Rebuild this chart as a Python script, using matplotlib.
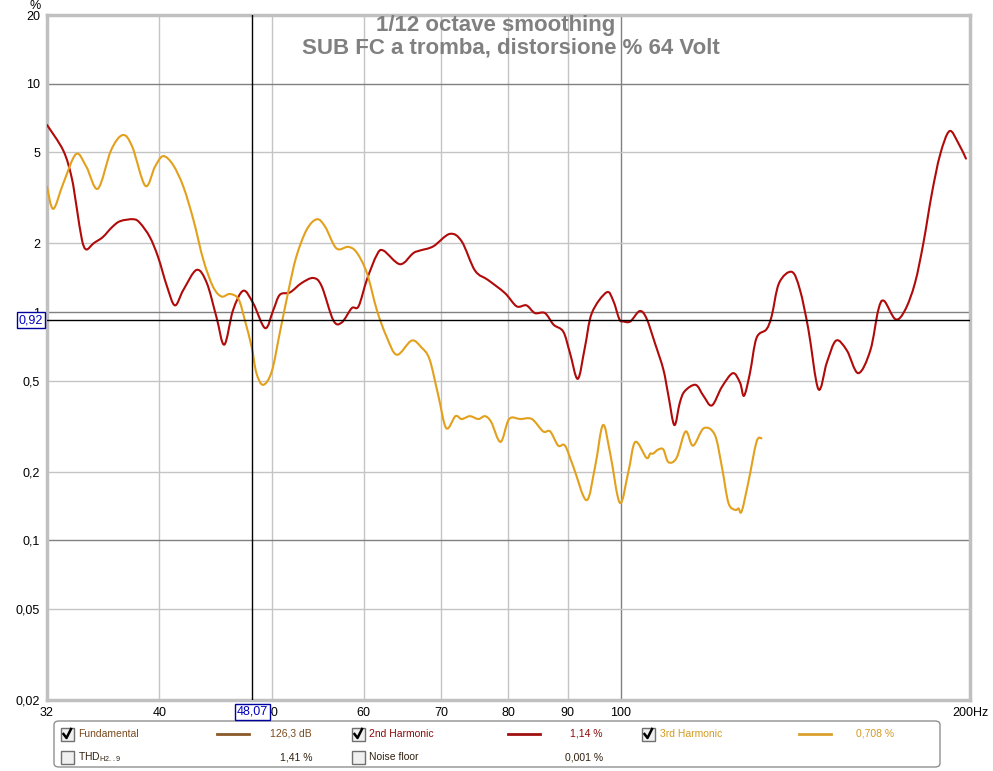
import numpy as np
import matplotlib
matplotlib.use('Agg')
import matplotlib.pyplot as plt
from matplotlib.patches import Rectangle, FancyBboxPatch, PathPatch
from matplotlib.lines import Line2D
from matplotlib.path import Path

plt.rcParams['font.family'] = ['Liberation Sans', 'DejaVu Sans']

# 2nd harmonic distortion (%)
freq_h2 = [32.0, 33.05, 33.6, 33.95, 34.3, 34.6, 35.1, 35.75, 36.4, 37.0, 38.0, 38.5, 39.25, 39.9,
           40.6, 41.25, 41.95, 43.07, 43.95, 44.8, 45.5, 46.3, 47.25, 48.2, 49.35, 50.15, 50.8,
           51.85, 53.05, 54.3, 55.2, 56.5, 57.45, 58.6, 59.4, 60.4, 61.6, 62.4, 64.5, 66.2, 67.1,
           68.9, 71.2, 72.9, 74.85, 76.85, 79.45, 81.3, 82.9, 84.3, 86.0, 87.5, 89.2, 90.4, 91.8,
           93.1, 94.4, 97.2, 98.5, 99.7, 100.5, 101.9, 103.8, 105.2, 107.0, 108.8, 109.9, 111.2,
           112.4, 113.5, 116.0, 117.8, 119.8, 122.2, 124.9, 126.7, 127.7, 129.2, 130.9, 133.5,
           134.9, 136.9, 140.4, 142.7, 145.1, 148.0, 150.5, 153.3, 156.6, 160.2, 164.1, 166.7,
           168.6, 172.5, 175.8, 179.3, 182.3, 185.4, 188.5, 192.0, 195.4, 198.4]
pct_h2 = [6.6, 5.1, 3.9, 2.85, 2.07, 1.88, 2.0, 2.13, 2.35, 2.5, 2.55, 2.45, 2.13, 1.74,
          1.3, 1.07, 1.25, 1.53, 1.34, 0.95, 0.72, 1.02, 1.24, 1.09, 0.85, 1.02, 1.19,
          1.22, 1.34, 1.41, 1.3, 0.92, 0.9, 1.04, 1.06, 1.39, 1.78, 1.86, 1.62, 1.81, 1.86,
          1.94, 2.2, 2.04, 1.52, 1.38, 1.21, 1.06, 1.07, 0.99, 0.99, 0.88, 0.82, 0.66, 0.51,
          0.7, 0.99, 1.22, 1.12, 0.93, 0.91, 0.91, 1.01, 0.94, 0.73, 0.56, 0.43, 0.32,
          0.4, 0.45, 0.48, 0.43, 0.39, 0.47, 0.54, 0.49, 0.43, 0.54, 0.77, 0.84,
          0.96, 1.34, 1.5, 1.25, 0.84, 0.46, 0.6, 0.75, 0.68, 0.54, 0.68, 1.02,
          1.12, 0.93, 1.02, 1.34, 2.0, 3.3, 4.9, 6.2, 5.5, 4.7]

# 3rd harmonic distortion (%)
freq_h3 = [32.0, 32.4, 33.05, 33.9, 34.6, 35.4, 36.35, 37.2, 37.9, 38.9, 39.65, 40.3, 41.1,
           41.95, 42.8, 43.65, 44.5, 45.25, 46.0, 46.8, 47.4, 48.05, 48.5, 49.15, 50.0, 50.8,
           51.7, 52.5, 53.6, 54.7, 55.6, 56.85, 58.2, 59.2, 60.4, 61.6, 62.8, 64.1, 66.0, 67.3,
           68.4, 69.6, 70.7, 72.0, 72.9, 74.1, 75.35, 76.35, 77.3, 78.75, 80.1, 81.9, 83.8,
           85.7, 86.9, 88.3, 89.5, 91.0, 93.4, 95.0, 96.5, 97.9, 99.8, 101.5, 102.9, 105.2,
           106.0, 106.6, 107.7, 108.8, 109.9, 111.7, 113.7, 115.4, 117.9, 120.5, 122.2, 123.8,
           125.5, 126.3, 127.1, 128.8, 130.9, 132.2]
pct_h3 = [3.54, 2.83, 3.66, 4.92, 4.33, 3.47, 5.13, 5.96, 5.3, 3.57, 4.33, 4.82, 4.41,
          3.54, 2.53, 1.69, 1.29, 1.17, 1.2, 1.14, 0.92, 0.70, 0.54, 0.48, 0.55, 0.81,
          1.25, 1.75, 2.3, 2.55, 2.36, 1.9, 1.93, 1.82, 1.48, 1.02, 0.78, 0.65, 0.75, 0.7,
          0.62, 0.43, 0.31, 0.35, 0.34, 0.35, 0.34, 0.35, 0.33, 0.27, 0.34, 0.34, 0.34,
          0.3, 0.3, 0.26, 0.26, 0.21, 0.15, 0.21, 0.32, 0.24, 0.146, 0.2, 0.27, 0.23,
          0.24, 0.24, 0.25, 0.25, 0.22, 0.23, 0.3, 0.26, 0.31, 0.29, 0.21, 0.146,
          0.136, 0.138, 0.134, 0.18, 0.27, 0.28]

x_ticks = [32, 40, 50, 60, 70, 80, 90, 100, 200]
x_labels = ['32', '40', '50', '60', '70', '80', '90', '100', '200Hz']
y_ticks = [0.02, 0.05, 0.1, 0.2, 0.5, 1, 2, 5, 10, 20]
y_labels = ['0,02', '0,05', '0,1', '0,2', '0,5', '1', '2', '5', '10', '20']

cursor_freq = 48.07
cursor_pct = 0.92

W, H = 993, 771
fig = plt.figure(figsize=(W / 100, H / 100), dpi=100)


def fx(x):
    return x / W


def fy(y):
    return 1 - y / H


def smooth_curve(xs, ys):
    # Catmull-Rom style bezier path through the read points (log-log space)
    lx, ly = np.log10(xs), np.log10(ys)
    p = np.column_stack([lx, ly])
    n = len(p)
    verts = [p[0]]
    codes = [Path.MOVETO]
    for i in range(n - 1):
        p0 = p[i - 1] if i > 0 else p[i]
        p3 = p[i + 2] if i + 2 < n else p[i + 1]
        c1 = p[i] + (p[i + 1] - p0) / 6
        c2 = p[i + 1] - (p3 - p[i]) / 6
        verts += [c1, c2, p[i + 1]]
        codes += [Path.CURVE4] * 3
    verts = 10 ** np.array(verts)
    return Path(verts, codes)


ax = fig.add_axes([fx(47), fy(700), (970 - 47) / W, (700 - 15) / H])
ax.set_xscale('log')
ax.set_yscale('log')
ax.set_xlim(32, 200)
ax.set_ylim(0.02, 20)

# grid
for v in [40, 50, 60, 70, 80, 90]:
    ax.axvline(v, color='#c4c4c4', lw=1, zorder=1)
ax.axvline(100, color='#808080', lw=1, zorder=1)
for v in [0.05, 0.2, 0.5, 2, 5]:
    ax.axhline(v, color='#c4c4c4', lw=1, zorder=1)
for v in [0.1, 1, 10]:
    ax.axhline(v, color='#808080', lw=1, zorder=1)

ax.add_patch(PathPatch(smooth_curve(freq_h2, pct_h2), fill=False, ec='#b00a0a', lw=1.5,
                       zorder=3, capstyle='round', joinstyle='round'))
ax.add_patch(PathPatch(smooth_curve(freq_h3, pct_h3), fill=False, ec='#e3a01c', lw=1.5,
                       zorder=3, capstyle='round', joinstyle='round'))

# cursor
ax.axvline(cursor_freq, color='black', lw=1, zorder=4)
ax.axhline(cursor_pct, color='black', lw=1, zorder=4)

ax.set_xticks(x_ticks)
ax.set_xticklabels(x_labels)
ax.set_xticks([], minor=True)
ax.set_yticks(y_ticks)
ax.set_yticklabels(y_labels)
ax.set_yticks([], minor=True)
ax.tick_params(length=0, labelsize=9, colors='black')
ax.tick_params(axis='x', pad=5)
ax.tick_params(axis='y', pad=5)
for s in ax.spines.values():
    s.set_color('#c0c0c0')
    s.set_linewidth(2.5)

fig.text(fx(35), fy(6), '%', fontsize=9, ha='center', va='center')

# title
fig.text(fx(496), fy(26), '1/12 octave smoothing', fontsize=16, fontweight='bold',
         color='#808080', ha='center', va='center')
fig.text(fx(511), fy(48), 'SUB FC a tromba, distorsione % 64 Volt', fontsize=16,
         fontweight='bold', color='#808080', ha='center', va='center')

# cursor value boxes
box = dict(boxstyle='square,pad=0.15', fc='white', ec='#0000a0', lw=1)
fig.text(fx(252), fy(712), '48,07', fontsize=9, color='#0000c0', ha='center', va='center',
         bbox=box, zorder=10)
fig.text(fx(31), fy(320), '0,92', fontsize=9, color='#0000c0', ha='center', va='center',
         bbox=box, zorder=10)

# legend panel
panel = FancyBboxPatch((fx(54), fy(767)), fx(940 - 54), (767 - 721) / H,
                       boxstyle='round,pad=0,rounding_size=0.005', transform=fig.transFigure,
                       fc='white', ec='#909090', lw=1)
fig.add_artist(panel)


def checkbox(x, y, checked):
    fig.add_artist(Rectangle((fx(x - 6.5), fy(y + 6.5)), 13 / W, 13 / H, transform=fig.transFigure,
                             fc='#f0f0f0', ec='#707070', lw=1))
    if checked:
        fig.add_artist(Line2D([fx(x - 3.5), fx(x - 0.5), fx(x + 4)],
                              [fy(y), fy(y + 4), fy(y - 5)], transform=fig.transFigure,
                              color='black', lw=1.8))


def sample(x0, x1, y, color):
    fig.add_artist(Line2D([fx(x0), fx(x1)], [fy(y), fy(y)], transform=fig.transFigure,
                          color=color, lw=2))


fund_c = '#7a4a1e'
h2_c = '#8b0a0a'
h3_c = '#d49a20'
row1, row2 = 734, 757
lf = 7.5

checkbox(67, row1, True)
fig.text(fx(78), fy(row1), 'Fundamental', fontsize=lf, color=fund_c, va='center')
sample(217, 249, row1, '#8b5a2b')
fig.text(fx(312), fy(row1), '126,3 dB', fontsize=lf, color=fund_c, va='center', ha='right')

checkbox(358, row1, True)
fig.text(fx(369), fy(row1), '2nd Harmonic', fontsize=lf, color=h2_c, va='center')
sample(508, 540, row1, '#a01010')
fig.text(fx(603), fy(row1), '1,14 %', fontsize=lf, color=h2_c, va='center', ha='right')

checkbox(648, row1, True)
fig.text(fx(660), fy(row1), '3rd Harmonic', fontsize=lf, color=h3_c, va='center')
sample(799, 831, row1, '#d9a030')
fig.text(fx(894), fy(row1), '0,708 %', fontsize=lf, color=h3_c, va='center', ha='right')

checkbox(67, row2, False)
fig.text(fx(78), fy(row2), r'THD$_{\mathregular{H2..9}}$', fontsize=lf, color='#302010', va='center')
fig.text(fx(312), fy(row2), '1,41 %', fontsize=lf, color='#302010', va='center', ha='right')

checkbox(358, row2, False)
fig.text(fx(369), fy(row2), 'Noise floor', fontsize=lf, color='#302010', va='center')
fig.text(fx(603), fy(row2), '0,001 %', fontsize=lf, color='#302010', va='center', ha='right')

fig.savefig('out.png', dpi=100)
